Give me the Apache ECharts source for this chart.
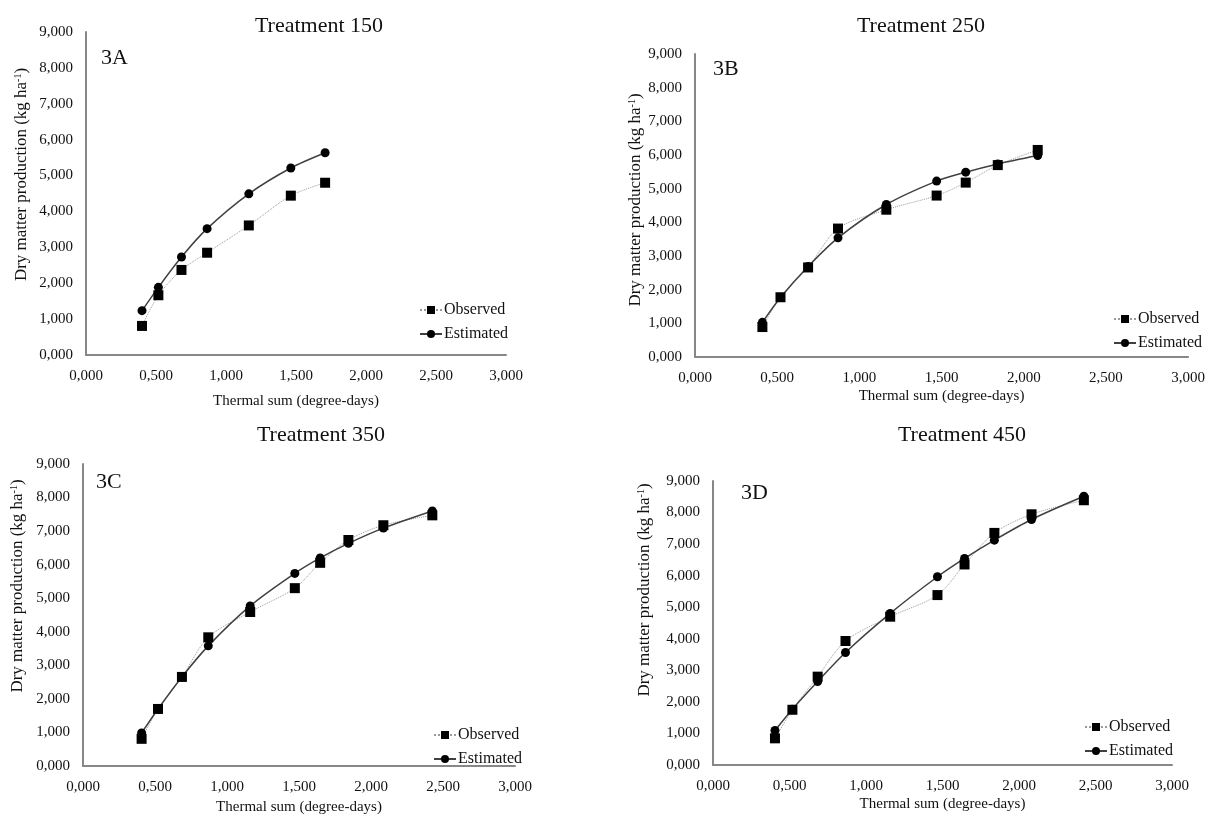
<!DOCTYPE html>
<html>
<head>
<meta charset="utf-8">
<script src="https://cdn.jsdelivr.net/npm/echarts@6/dist/echarts.min.js"></script>
<style>
  html, body { margin: 0; padding: 0; background: #fff; }
  #chart { width: 1208px; height: 816px; }
</style>
</head>
<body>
<div id="chart"></div>
<script>
// thermal sum (degree-days) and dry matter (kg/ha)
const xA = [400, 517, 682, 865, 1163, 1463, 1708]
const obsA = [810, 1665, 2370, 2850, 3610, 4440, 4800]
const estA = [1235, 1885, 2730, 3520, 4490, 5210, 5635]

const xB = [410, 520, 688, 870, 1164, 1470, 1647, 1842, 2085]
const obsB = [890, 1775, 2660, 3815, 4375, 4795, 5180, 5700, 6150]
const estB = [1030, 1770, 2690, 3540, 4530, 5225, 5490, 5735, 5985]

const xC = [407, 521, 687, 870, 1161, 1471, 1647, 1843, 2086, 2426]
const obsC = [810, 1700, 2655, 3835, 4590, 5300, 6055, 6735, 7175, 7470]
const estC = [985, 1700, 2655, 3580, 4770, 5740, 6200, 6635, 7090, 7600]

const xD = [405, 519, 684, 866, 1158, 1467, 1644, 1839, 2082, 2424]
const obsD = [845, 1750, 2800, 3930, 4700, 5385, 6355, 7355, 7945, 8390]
const estD = [1095, 1770, 2645, 3565, 4805, 5965, 6545, 7125, 7780, 8515]

const panels = [
  { title: 'Treatment 150', tag: '3A', x: xA, obs: obsA, est: estA,
    grid: { left: 86, top: 32, width: 420, height: 323 },
    titlePos: [314, 10], tagPos: [96, 42], legendPos: [414, 297],
    xNameGap: 39, yNameGap: 56, yNameShift: 38 },
  { title: 'Treatment 250', tag: '3B', x: xB, obs: obsB, est: estB,
    grid: { left: 695, top: 54, width: 494, height: 303 },
    titlePos: [916, 10], tagPos: [708, 53], legendPos: [1108, 306],
    xNameGap: 32, yNameGap: 50, yNameShift: 11 },
  { title: 'Treatment 350', tag: '3C', x: xC, obs: obsC, est: estC,
    grid: { left: 83, top: 464, width: 432, height: 305 },
    titlePos: [316, 419], tagPos: [91, 466], legendPos: [428, 722],
    xNameGap: 34, yNameGap: 57, yNameShift: 58 },
  { title: 'Treatment 450', tag: '3D', x: xD, obs: obsD, est: estD,
    grid: { left: 713, top: 481, width: 459, height: 284 },
    titlePos: [957, 419], tagPos: [736, 477], legendPos: [1079, 714],
    xNameGap: 32, yNameGap: 60, yNameShift: 66 }
]

const fontFamily = '"Liberation Serif", "DejaVu Serif", serif'
const fmt = v => (v / 1000).toFixed(3).replace('.', ',')
const axisLine = { show: true, lineStyle: { color: '#878787', width: 2 } }

const chart = echarts.init(document.getElementById('chart'))

const option = {
  backgroundColor: '#fff',
  animation: false,
  textStyle: { fontFamily },
  title: [],
  legend: [],
  grid: [],
  xAxis: [],
  yAxis: [],
  series: []
}

panels.forEach((p, i) => {
  option.title.push({
    text: p.title, left: p.titlePos[0], top: p.titlePos[1], textAlign: 'center',
    textStyle: { fontFamily, fontSize: 22, fontWeight: 'normal', color: '#111' }
  })
  option.title.push({
    text: p.tag, left: p.tagPos[0], top: p.tagPos[1],
    textStyle: { fontFamily, fontSize: 22, fontWeight: 'normal', color: '#111' }
  })
  option.legend.push({
    orient: 'vertical', left: p.legendPos[0], top: p.legendPos[1],
    itemWidth: 22, itemHeight: 10, itemGap: 8,
    data: ['Observed', 'Estimated'],
    textStyle: { fontFamily, fontSize: 16, color: '#111', padding: [0, 0, 0, -3] }
  })
  option.grid.push(p.grid)
  option.xAxis.push({
    type: 'value', gridIndex: i, min: 0, max: 3000, interval: 500,
    name: 'Thermal sum (degree-days)', nameLocation: 'middle', nameGap: p.xNameGap,
    nameTextStyle: { fontFamily, fontSize: 15, color: '#111' },
    axisLine, axisTick: { show: false }, splitLine: { show: false },
    axisLabel: { formatter: fmt, fontFamily, fontSize: 15, color: '#111', margin: 14 }
  })
  option.yAxis.push({
    type: 'value', gridIndex: i, min: 0, max: 9000, interval: 1000,
    name: 'Dry matter production (kg ha{sup|-1})', nameLocation: 'middle', nameGap: p.yNameGap,
    nameTextStyle: { fontFamily, fontSize: 17, color: '#111', padding: [0, 0, 0, p.yNameShift],
      rich: { sup: { fontFamily, fontSize: 10, verticalAlign: 'top', color: '#111' } } },
    axisLine, axisTick: { show: false }, splitLine: { show: false },
    axisLabel: { formatter: fmt, fontFamily, fontSize: 15, color: '#111', margin: 13 }
  })
  option.series.push({
    name: 'Observed', type: 'line', xAxisIndex: i, yAxisIndex: i,
    data: p.x.map((x, k) => [x, p.obs[k]]),
    smooth: 0.3, symbol: 'rect', symbolSize: 10,
    itemStyle: { color: '#000' },
    lineStyle: { color: '#9a9a9a', width: 1, type: 'dotted' }
  })
  option.series.push({
    name: 'Estimated', type: 'line', xAxisIndex: i, yAxisIndex: i,
    data: p.x.map((x, k) => [x, p.est[k]]),
    smooth: 0.3, symbol: 'circle', symbolSize: 9,
    itemStyle: { color: '#000' },
    lineStyle: { color: '#404040', width: 1.5 }
  })
})

chart.setOption(option)
</script>
</body>
</html>
